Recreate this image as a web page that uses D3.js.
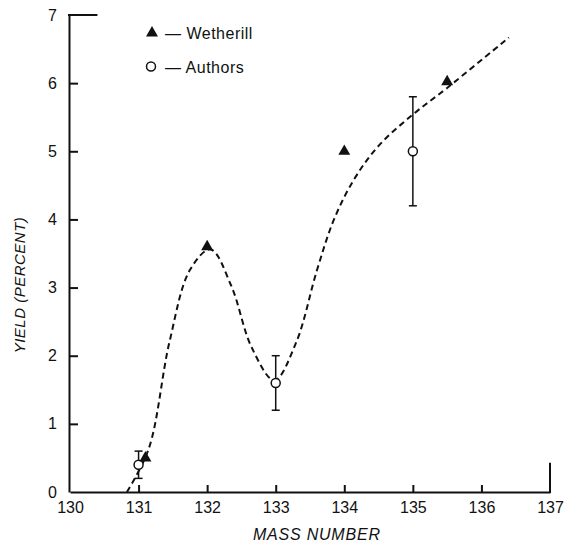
<!DOCTYPE html>
<html>
<head>
<meta charset="utf-8">
<script src="https://cdn.jsdelivr.net/npm/d3@7"></script>
<style>
  body { margin: 0; background: #fff; }
  svg text { font-family: "Liberation Sans", Arial, sans-serif; fill: #111; }
</style>
</head>
<body>
<div id="chart"></div>
<script>
// Wetherill points (triangles)
const wetherillMass = [131.1, 132.0, 134.0, 135.5];
const wetherillYield = [0.5, 3.6, 5.0, 6.02];

// Authors points (open circles) with error bars
const authorsMass = [131.0, 133.0, 135.0];
const authorsYield = [0.4, 1.6, 5.0];
const authorsErr = [0.2, 0.4, 0.8];

// dashed curve
const curveMass = [130.83, 131.15, 131.45, 131.75, 132.05, 132.35, 132.65, 132.98, 133.3, 133.6, 133.85, 134.15, 134.5, 135.0, 135.5, 136.4];
const curveYield = [0.0, 0.64, 2.2, 3.26, 3.56, 3.03, 2.12, 1.64, 2.2, 3.25, 4.0, 4.6, 5.08, 5.54, 5.93, 6.67];

const xTicks = [130, 131, 132, 133, 134, 135, 136, 137];
const yTicks = [0, 1, 2, 3, 4, 5, 6, 7];

const width = 566, height = 546;
const margin = { top: 15, right: 16, bottom: 54, left: 70 };

const svg = d3.select("#chart").append("svg")
  .attr("width", width)
  .attr("height", height);

const x = d3.scaleLinear().domain([130, 137]).range([margin.left, width - margin.right]);
const y = d3.scaleLinear().domain([0, 7]).range([height - margin.bottom, margin.top]);

// axes
const xAxis = svg.append("g")
  .attr("transform", `translate(0,${y(0)})`)
  .call(d3.axisBottom(x).tickValues(xTicks).tickFormat(d3.format("d"))
    .tickSizeInner(-7).tickSizeOuter(0).tickPadding(10));
xAxis.selectAll("text").attr("font-size", "16px");

const yAxis = svg.append("g")
  .attr("transform", `translate(${x(130) - 1},0)`)
  .call(d3.axisLeft(y).tickValues(yTicks).tickFormat(d3.format("d"))
    .tickSizeInner(-9).tickSizeOuter(0).tickPadding(12));
yAxis.selectAll("text").attr("font-size", "16px");

svg.selectAll(".domain, .tick line").attr("stroke", "#111").attr("stroke-width", 2);
xAxis.selectAll(".tick").filter(d => d === 130 || d === 137).select("line").remove();
yAxis.selectAll(".tick").filter(d => d === 0 || d === 7).select("line").remove();

// top and right stubs of the frame
svg.append("line")
  .attr("x1", x(130) - 2).attr("x2", x(130.4))
  .attr("y1", y(7)).attr("y2", y(7))
  .attr("stroke", "#111").attr("stroke-width", 2);
svg.append("line")
  .attr("x1", x(137)).attr("x2", x(137))
  .attr("y1", y(0) + 1).attr("y2", y(0.43))
  .attr("stroke", "#111").attr("stroke-width", 2);

// axis titles
svg.append("text")
  .attr("x", x(133.6)).attr("y", 540)
  .attr("text-anchor", "middle")
  .attr("font-size", "16px").attr("font-style", "italic")
  .attr("letter-spacing", "0.8px")
  .text("MASS NUMBER");

svg.append("text")
  .attr("transform", `translate(25,${285}) rotate(-90)`)
  .attr("text-anchor", "middle")
  .attr("font-size", "15px").attr("font-style", "italic")
  .attr("letter-spacing", "0.5px")
  .text("YIELD (PERCENT)");

// dashed curve
const curveData = curveMass.map((m, i) => [m, curveYield[i]]);
svg.append("path")
  .datum(curveData)
  .attr("fill", "none")
  .attr("stroke", "#111")
  .attr("stroke-width", 2)
  .attr("stroke-dasharray", "6,4")
  .attr("d", d3.line().x(d => x(d[0])).y(d => y(d[1])).curve(d3.curveCatmullRom.alpha(0.5)));

// error bars
const authors = authorsMass.map((m, i) => ({ m: m, v: authorsYield[i], e: authorsErr[i] }));
const err = svg.append("g").attr("stroke", "#111").attr("stroke-width", 1.5);
err.selectAll(".bar").data(authors).join("line")
  .attr("x1", d => x(d.m)).attr("x2", d => x(d.m))
  .attr("y1", d => y(d.v - d.e)).attr("y2", d => y(d.v + d.e));
err.selectAll(".capTop").data(authors).join("line")
  .attr("x1", d => x(d.m) - 4).attr("x2", d => x(d.m) + 4)
  .attr("y1", d => y(d.v + d.e)).attr("y2", d => y(d.v + d.e));
err.selectAll(".capBot").data(authors).join("line")
  .attr("x1", d => x(d.m) - 4).attr("x2", d => x(d.m) + 4)
  .attr("y1", d => y(d.v - d.e)).attr("y2", d => y(d.v - d.e));

// authors circles
svg.append("g").selectAll("circle").data(authors).join("circle")
  .attr("cx", d => x(d.m)).attr("cy", d => y(d.v))
  .attr("r", 4.5)
  .attr("fill", "#fff").attr("stroke", "#111").attr("stroke-width", 1.5);

// wetherill triangles
const tri = d3.symbol().type(d3.symbolTriangle).size(62);
svg.append("g").selectAll("path").data(wetherillMass).join("path")
  .attr("transform", (d, i) => `translate(${x(d)},${y(wetherillYield[i])})`)
  .attr("d", tri)
  .attr("fill", "#111");

// legend
const legend = svg.append("g");
legend.append("path")
  .attr("transform", "translate(152,33)")
  .attr("d", tri).attr("fill", "#111");
legend.append("text").attr("x", 165).attr("y", 39)
  .attr("font-size", "16px").attr("letter-spacing", "0.5px")
  .text("— Wetherill");
legend.append("circle")
  .attr("cx", 151).attr("cy", 66.5).attr("r", 4.5)
  .attr("fill", "#fff").attr("stroke", "#111").attr("stroke-width", 1.5);
legend.append("text").attr("x", 165).attr("y", 72.5)
  .attr("font-size", "16px").attr("letter-spacing", "0.5px")
  .text("— Authors");
</script>
</body>
</html>
